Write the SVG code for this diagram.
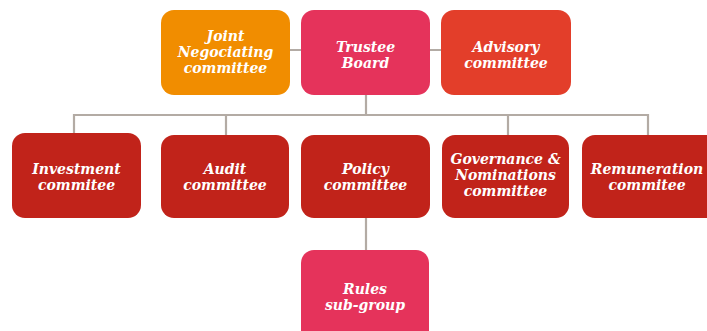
<svg xmlns="http://www.w3.org/2000/svg" width="707" height="331" viewBox="0 0 707 331">
<style>
.box{stroke:none}
.t{font-family:"DejaVu Serif","Liberation Serif",serif;font-weight:bold;font-style:italic;font-size:14px;fill:#fff;text-anchor:middle}
.ln{stroke:#b3aba4;stroke-width:2.2;fill:none}
.orange{fill:#f18d00}
.pink{fill:#e5335b}
.redor{fill:#e33e2a}
.red{fill:#c1231a}
</style>
<rect width="707" height="331" fill="#fff"/>
<g id="connectors">
<path class="ln" d="M290,50 H301 M430,50 H441"/>
<path class="ln" d="M366,95 V115 M74,133 V115 H648 V135 M226,115 V135 M508,115 V135 M366,218 V250"/>
</g>
<g id="joint"><rect class="box orange" x="161" y="10" width="129" height="85" rx="13"/>
<text class="t" x="225.5" y="41">Joint</text><text class="t" x="225.5" y="57">Negociating</text><text class="t" x="225.5" y="73">committee</text></g>
<g id="trustee"><rect class="box pink" x="301" y="10" width="129" height="85" rx="13"/>
<text class="t" x="365.5" y="52">Trustee</text><text class="t" x="365.5" y="68">Board</text></g>
<g id="advisory"><rect class="box redor" x="441" y="10" width="130" height="85" rx="13"/>
<text class="t" x="506" y="52">Advisory</text><text class="t" x="506" y="68">committee</text></g>
<g id="investment"><rect class="box red" x="12" y="133" width="129" height="85" rx="13"/>
<text class="t" x="76.5" y="174">Investment</text><text class="t" x="76.5" y="190">commitee</text></g>
<g id="audit"><rect class="box red" x="161" y="135" width="128" height="83" rx="13"/>
<text class="t" x="225" y="174">Audit</text><text class="t" x="225" y="190">committee</text></g>
<g id="policy"><rect class="box red" x="301" y="135" width="129" height="83" rx="13"/>
<text class="t" x="365.5" y="174">Policy</text><text class="t" x="365.5" y="190">committee</text></g>
<g id="governance"><rect class="box red" x="442" y="135" width="127" height="83" rx="13"/>
<text class="t" x="505.5" y="164">Governance &amp;</text><text class="t" x="505.5" y="180">Nominations</text><text class="t" x="505.5" y="196">committee</text></g>
<g id="remuneration"><rect class="box red" x="582" y="135" width="140" height="83" rx="13"/>
<text class="t" x="647" y="174">Remuneration</text><text class="t" x="647" y="190">commitee</text></g>
<g id="rules"><rect class="box pink" x="301" y="250" width="128" height="100" rx="13"/>
<text class="t" x="365" y="294">Rules</text><text class="t" x="365" y="310">sub-group</text></g>
</svg>
